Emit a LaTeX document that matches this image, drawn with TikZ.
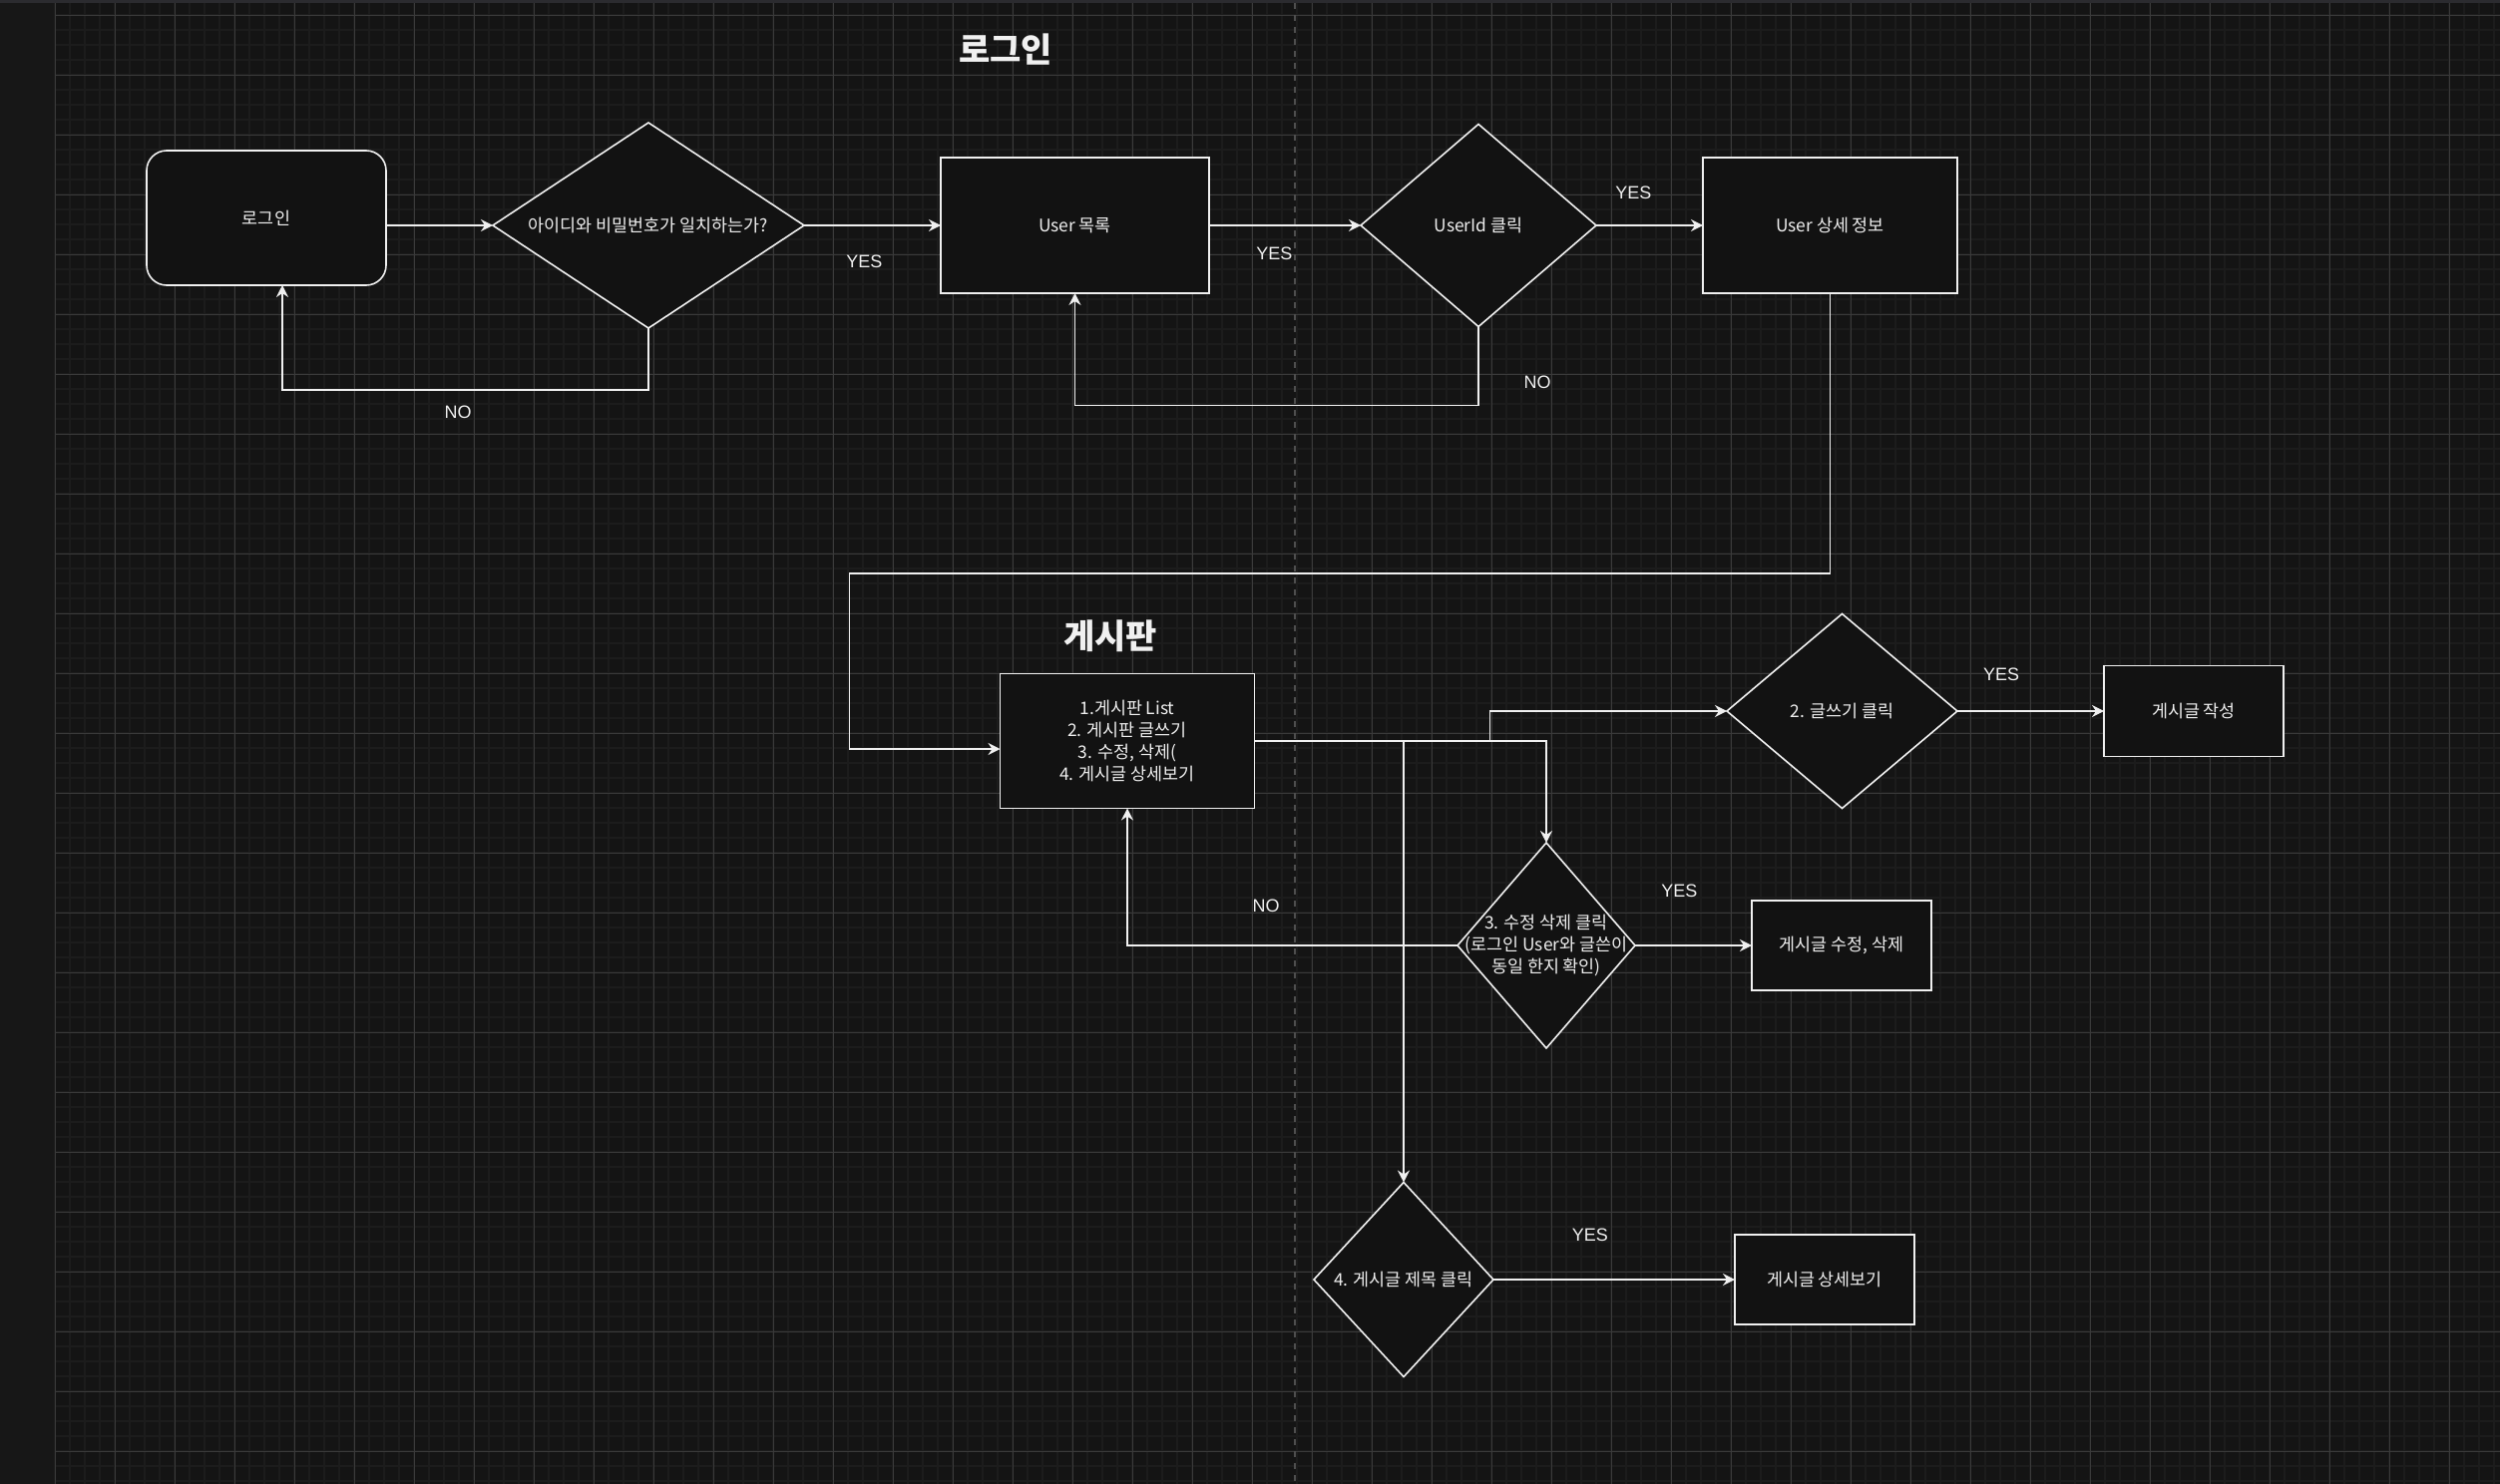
\documentclass[tikz,border=0pt]{standalone}
\usepackage{fontspec}
\setmainfont{Noto Sans CJK KR}
\newfontfamily\labelfont{Liberation Sans}
\usepackage{tikz}
\usetikzlibrary{positioning, arrows.meta, shapes.geometric}
\definecolor{bggray}{HTML}{141414}
\definecolor{minorgray}{HTML}{1C1C1C}
\definecolor{majorgray}{HTML}{3A3A3A}
\definecolor{stripgray}{HTML}{171717}
\definecolor{bargray}{HTML}{2B2B2F}
\definecolor{breakgray}{HTML}{4E4E4E}
\definecolor{shapefill}{HTML}{121212}
\definecolor{linecol}{HTML}{F0F0F0}
\tikzset{procbox/.style={draw=linecol, fill=shapefill, line width=0.8pt, text=linecol,
    minimum width=127.5pt, minimum height=67.5pt, inner sep=0pt, outer sep=0pt,
    align=center, font=\fontsize{8.7pt}{10.85pt}\selectfont}}
\tikzset{roundbox/.style={procbox, rounded corners=10pt}}
\tikzset{smallbox/.style={procbox, minimum width=90pt, minimum height=45pt}}
\tikzset{decision/.style={procbox, shape=diamond}}
\tikzset{answer/.style={text=linecol, inner sep=0pt, font=\labelfont\fontsize{9pt}{11pt}\selectfont}}
\tikzset{heading/.style={text=linecol, inner sep=0pt, font=\fontsize{17pt}{20pt}\selectfont\bfseries}}
\tikzset{minorline/.style={-, draw=minorgray, line width=1pt}}
\tikzset{majorline/.style={-, draw=majorgray, line width=0.5pt}}

\begin{document}
\begin{tikzpicture}[->, >={Stealth[length=6pt, width=6pt, inset=2pt]}, x=0.5pt, y=-0.5pt,
    line width=0.75pt, color=linecol]
			% background grid
			\useasboundingbox (0,0) rectangle (2506,1488);
			\fill[bggray] (0,0) rectangle (2506,1488);
			\foreach \gx in {55,70,...,2506} \draw[minorline] (\gx,3) -- (\gx,1488);
			\foreach \gy in {0,15,...,1488} \draw[minorline] (55,\gy) -- (2506,\gy);
			\foreach \gx in {55,115,...,2506} \draw[majorline] (\gx,3) -- (\gx,1488);
			\foreach \gy in {15,75,...,1488} \draw[majorline] (55,\gy) -- (2506,\gy);
			\draw[-, draw=breakgray, line width=1pt, dash pattern=on 3pt off 3pt] (1298,3) -- (1298,1488);
			\fill[stripgray] (0,0) rectangle (54,1488);
			\fill[bargray] (0,0) rectangle (2506,3);

			% login
			\node[heading] (logintitle) at (1008,50) {로그인};
			\node[roundbox, minimum width=120pt] (login) at (267,218.5) {로그인};
			\node[decision, minimum width=156pt, minimum height=103pt, shape aspect=1.515] (check) at (650,226) {아이디와 비밀번호가 일치하는가?};
			\node[procbox, minimum width=134.5pt, minimum height=68pt, right=68.5pt of check] (userlist) {User 목록};
			\node[decision, minimum width=118pt, minimum height=101.5pt, shape aspect=1.16, right=76pt of userlist] (clickid) {UserId 클릭};
			\node[procbox, minimum height=68pt, right=53.5pt of clickid] (userinfo) {User 상세 정보};

			% board
			\node[heading] (boardtitle) at (1113,638) {게시판};
			\node[procbox] (board) at (1130,743) {1.게시판 List\\2. 게시판 글쓰기\\3. 수정, 삭제(\\4. 게시글 상세보기};
			\node[decision, minimum width=115.5pt, minimum height=97.5pt, shape aspect=1.185] (write) at (1846.5,713) {2. 글쓰기 클릭};
			\node[smallbox, minimum height=45.5pt, right=73.5pt of write] (writepost) {게시글 작성};
			\node[decision, minimum width=89pt, minimum height=103pt, shape aspect=0.864, inner sep=-8pt] (del) at (1550,948) {3. 수정 삭제 클릭\\(로그인 User와 글쓴이\\동일 한지 확인)};
			\node[smallbox, right=58.5pt of del] (editpost) {게시글 수정, 삭제};
			\node[decision, minimum width=90pt, minimum height=97.5pt, shape aspect=0.923] (view) at (1407,1283) {4. 게시글 제목 클릭};
			\node[smallbox, right=121pt of view] (viewpost) {게시글 상세보기};

			\draw (login.east |- check.west) -- (check.west);
			\draw (check) -- node[answer, pos=0.44, yshift=-18pt] (yes1) {YES} (userlist);
			\draw (check.south) -- ++(0,62) -| node[answer, pos=0.26, yshift=-11pt] (no1) {NO} ([xshift=8pt]login.south);
			\draw (userlist) -- node[answer, pos=0.43, yshift=-14pt] (yes2) {YES} (clickid);
			\draw (clickid) -- node[answer, pos=0.35, yshift=16.5pt] (yes3) {YES} (userinfo);
			\draw (clickid.south) -- node[answer, pos=0.71, xshift=29.5pt] (no2) {NO} ++(0,79) -| (userlist.south);
			\draw (userinfo.south) -- ++(0,281) -- ++(-983,0) |- ([yshift=-4pt]board.west);

			\draw (board.east) -- ++(236,0) |- (write.west);
			\draw (board.east) -| (del.north);
			\draw (board.east) -| (view.north);
			\draw (write) -- node[answer, pos=0.3, yshift=18.5pt] (yes4) {YES} (writepost);
			\draw (del) -- node[answer, pos=0.38, yshift=27.5pt] (yes5) {YES} (editpost);
			\draw (del.west) -| node[answer, pos=0.29, yshift=20pt] (no3) {NO} (board.south);
			\draw (view) -- node[answer, pos=0.4, yshift=22.5pt] (yes6) {YES} (viewpost);
		\end{tikzpicture}
\end{document}
